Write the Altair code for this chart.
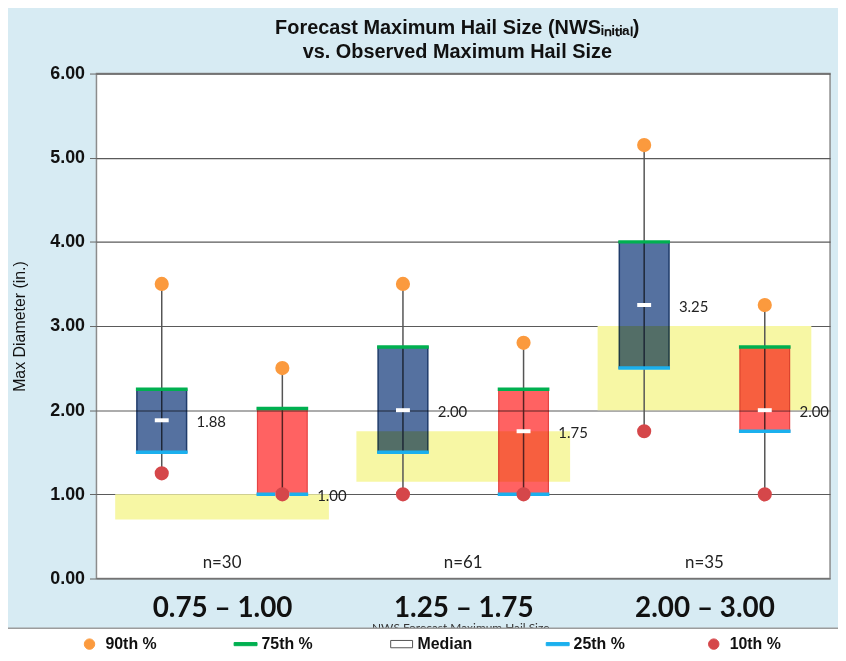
import json
import altair as alt
import pandas as pd

# ---------------- data ----------------
categories = ["0.75 – 1.00", "1.25 – 1.75", "2.00 – 3.00"]
n_counts = [30, 61, 35]
series_names = ["Blue", "Red"]

blue_p90 = [3.50, 3.50, 5.15]
blue_p75 = [2.25, 2.75, 4.00]
blue_med = [1.88, 2.00, 3.25]
blue_p25 = [1.50, 1.50, 2.50]
blue_p10 = [1.25, 1.00, 1.75]

red_p90 = [2.50, 2.80, 3.25]
red_p75 = [2.02, 2.25, 2.75]
red_med = [1.00, 1.75, 2.00]
red_p25 = [1.00, 1.00, 1.75]
red_p10 = [1.00, 1.00, 1.00]

forecast_low = [0.70, 1.15, 2.00]
forecast_high = [1.00, 1.75, 3.00]

stat_names = ["90th %", "75th %", "Median", "25th %", "10th %"]

# ---------------- tables ----------------
OFFSET = 0.25
box_rows, stat_rows, fc_rows, n_rows = [], [], [], []
sets = {
    "Blue": (blue_p90, blue_p75, blue_med, blue_p25, blue_p10),
    "Red": (red_p90, red_p75, red_med, red_p25, red_p10),
}
for gi, cat in enumerate(categories):
    center = gi + 0.5
    fc_rows.append({"cat": cat, "x": center, "low": forecast_low[gi], "high": forecast_high[gi]})
    n_rows.append({"cat": cat, "x": center, "n": n_counts[gi]})
    for s in series_names:
        p90, p75, med, p25, p10 = (arr[gi] for arr in sets[s])
        x = center + (-OFFSET if s == "Blue" else OFFSET)
        box_rows.append({"cat": cat, "series": s, "x": x, "p90": p90, "p75": p75,
                         "med": med, "p25": p25, "p10": p10})
        for name, v in zip(stat_names, (p90, p75, med, p25, p10)):
            stat_rows.append({"cat": cat, "series": s, "x": x, "stat": name, "value": v})

box_df = pd.DataFrame(box_rows)
stat_df = pd.DataFrame(stat_rows)
fc_df = pd.DataFrame(fc_rows)
n_df = pd.DataFrame(n_rows)

# ---------------- encodings ----------------
label_expr = json.dumps(categories, ensure_ascii=False) + "[floor(datum.value)]"
x_enc = alt.X(
    "x:Q",
    scale=alt.Scale(domain=[0, 3], nice=False, zero=False),
    axis=alt.Axis(
        values=[0.5, 1.5, 2.5], labelExpr=label_expr, grid=False, ticks=False, domain=False,
        labelFont="Lato", labelFontSize=28, labelFontWeight="bold", labelColor="#111111",
        labelPadding=16, title="NWS Forecast Maximum Hail Size", titleFont="Lato",
        titleFontSize=12, titleFontWeight="normal", titleColor="#333333", titlePadding=0,
        titleX=366,
    ),
)
y_scale = alt.Scale(domain=[0, 6], nice=False, zero=True)
y_axis = alt.Axis(
    values=[0, 1, 2, 3, 4, 5, 6], format=".2f", grid=True, gridColor="#5a5a5a", gridWidth=1.2,
    tickColor="#666666", tickSize=7, domain=False, labelFont="Liberation Sans",
    labelFontWeight="bold", labelFontSize=18, labelColor="#111111", labelPadding=5,
    title="Max Diameter (in.)", titleFont="Liberation Sans", titleFontWeight="normal",
    titleFontSize=16, titleColor="#111111", titlePadding=22,
)

stat_fill = ["#fb9a3e", "#00b050", "#ffffff", "#1bb0ee", "#d5474a"]
stat_stroke = ["#fb9a3e", "#00b050", "#555555", "#1bb0ee", "#d5474a"]
dash = "M-2.2,-0.3L2.2,-0.3L2.2,0.3L-2.2,0.3Z"
pill = "M-2.1,-0.7L2.1,-0.7L2.1,0.7L-2.1,0.7Z"
stat_shape = ["circle", dash, pill, dash, "circle"]

leg = alt.Legend(
    title=None, orient="none", legendX=-15, legendY=566, direction="horizontal", columns=5,
    gridAlign="all", columnPadding=71, labelFont="Liberation Sans", labelFontWeight="bold",
    labelFontSize=16, labelColor="#111111", symbolSize=110, symbolStrokeWidth=1,
    labelOffset=8, symbolOpacity=1,
)
fill_enc = alt.Fill("stat:N", scale=alt.Scale(domain=stat_names, range=stat_fill), legend=leg)
stroke_enc = alt.Stroke("stat:N", scale=alt.Scale(domain=stat_names, range=stat_stroke), legend=leg)
shape_enc = alt.Shape("stat:N", scale=alt.Scale(domain=stat_names, range=stat_shape), legend=leg)

# ---------------- decorations (outside the plot) ----------------
one = alt.Data(values=[{"k": 1}])
white_band = alt.Chart(one).mark_rect(color="white").encode(
    x=alt.value(-120), x2=alt.value(780), y=alt.value(558), y2=alt.value(700)
)
band_line = alt.Chart(one).mark_rule(color="#9c9c9c", strokeWidth=1.5).encode(
    x=alt.value(-92), x2=alt.value(780), y=alt.value(558)
)

# ---------------- marks ----------------
yellow = alt.Chart(fc_df).mark_bar(size=215, color="#f7f7a4").encode(
    x=x_enc, y=alt.Y("low:Q", scale=y_scale, axis=y_axis), y2="high:Q"
)
whisker = alt.Chart(box_df).mark_rule(color="#555555", strokeWidth=1.5).encode(
    x="x:Q", y="p10:Q", y2="p90:Q"
)
box_blue = alt.Chart(box_df).transform_filter(alt.datum.series == "Blue").mark_bar(
    size=50, fill="#5571a0", stroke="#1f3b6a", strokeWidth=1.5, blend="multiply"
).encode(x="x:Q", y="p25:Q", y2="p75:Q")
box_red = alt.Chart(box_df).transform_filter(alt.datum.series == "Red").mark_bar(
    size=50, fill="#ff6262", stroke="#e54444", strokeWidth=1.2, blend="multiply"
).encode(x="x:Q", y="p25:Q", y2="p75:Q")

quart = alt.Chart(stat_df).transform_filter(
    alt.FieldOneOfPredicate(field="stat", oneOf=["75th %", "25th %"])
).mark_tick(orient="horizontal", size=52, thickness=3.5, opacity=1, strokeWidth=0).encode(
    x="x:Q", y="value:Q", fill=fill_enc
)
median = alt.Chart(stat_df).transform_filter(alt.datum.stat == "Median").mark_tick(
    orient="horizontal", size=14, thickness=4, opacity=1, strokeWidth=0
).encode(x="x:Q", y="value:Q", fill=fill_enc)
dots = alt.Chart(stat_df).transform_filter(
    alt.FieldOneOfPredicate(field="stat", oneOf=["90th %", "10th %"])
).mark_point(filled=True, size=150, opacity=1).encode(
    x="x:Q", y="value:Q", fill=fill_enc, stroke=stroke_enc, shape=shape_enc
)
med_text = alt.Chart(box_df).mark_text(
    align="left", baseline="middle", dx=35, dy=2, font="Lato", fontSize=15, color="#222222"
).encode(x="x:Q", y="med:Q", text=alt.Text("med:Q", format=".2f"))
n_text = alt.Chart(n_df).transform_calculate(label="'n=' + datum.n", ypos="0.18").mark_text(
    align="center", baseline="middle", font="Lato", fontSize=17, color="#222222"
).encode(x="x:Q", y="ypos:Q", text="label:N")

chart = alt.layer(
    white_band, band_line, yellow, whisker, box_blue, box_red, quart, median, dots, med_text, n_text
).properties(
    width=738, height=508,
    autosize=alt.AutoSizeParams(type="none"),
    padding={"left": 89, "top": 64, "right": 8, "bottom": 74},
    background="#d7ebf3",
    title=alt.Title(
        text=["Forecast Maximum Hail Size (NWSᵢₙᵢₜᵢₐₗ)", "vs. Observed Maximum Hail Size"],
        font="Liberation Sans", fontSize=20, fontWeight="bold", color="#111111",
        anchor="middle", frame="group", dx=-6, offset=3, lineHeight=24,
    ),
).configure_view(
    fill="white", stroke="#8c8c8c", strokeWidth=1.5
)

chart.save("out.html", embed_options={"renderer": "svg", "actions": False})
